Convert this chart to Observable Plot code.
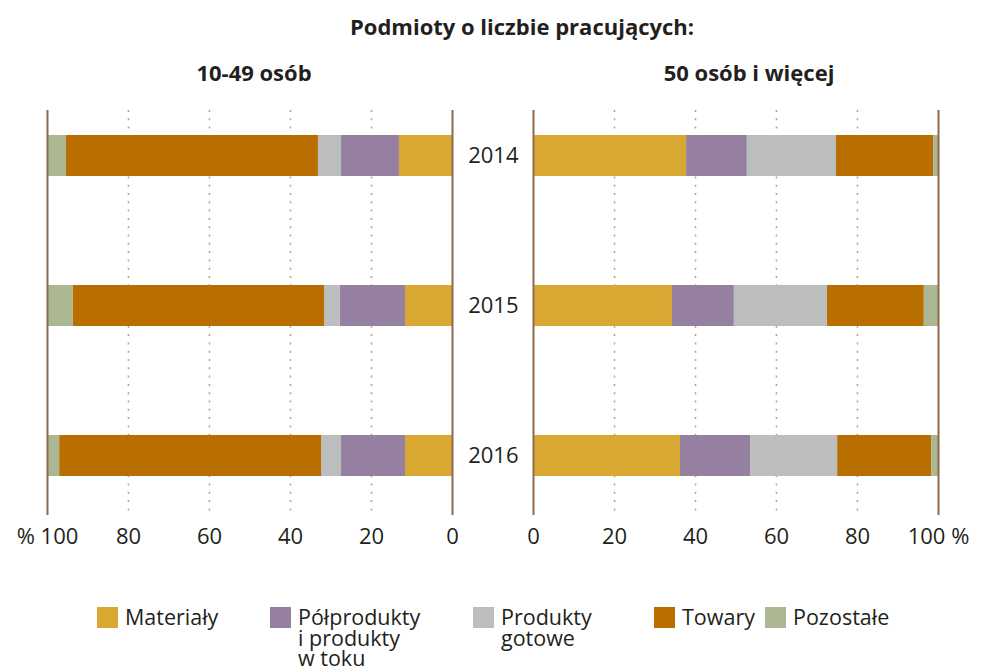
<!DOCTYPE html>
<html><head><meta charset="utf-8">
<script src="https://cdn.jsdelivr.net/npm/d3@7"></script>
<script src="https://cdn.jsdelivr.net/npm/@observablehq/plot@0.6"></script>
<style>
body{margin:0;background:#fff;font-family:"Open Sans",sans-serif;color:#231f20;}
#wrap{position:relative;width:989px;height:672px;overflow:hidden;}
.abs{position:absolute;}
.title{font-weight:bold;font-size:22px;white-space:nowrap;transform:translateX(-50%);}
.leg{position:absolute;top:607px;display:flex;align-items:flex-start;font-size:21.5px;}
.leg .ln{height:20.5px;line-height:20.5px;white-space:nowrap;}
.sw{width:21px;height:21px;margin-right:7px;flex:none;}
</style></head>
<body><div id="wrap"></div>
<script>
const years = ["2014", "2015", "2016"];
const categories = ["Materiały", "Półprodukty i produkty w toku", "Produkty gotowe", "Towary", "Pozostałe"];
const legendLines = [["Materiały"], ["Półprodukty", "i produkty", "w toku"], ["Produkty", "gotowe"], ["Towary"], ["Pozostałe"]];
const colors = ["#D8A833", "#9680A2", "#BCBDBF", "#B86F00", "#ABB790"];
const panelTitles = ["10-49 osób", "50 osób i więcej"];
const mainTitle = "Podmioty o liczbie pracujących:";
const ticks = [0, 20, 40, 60, 80, 100];

// 10-49 osób (per year 2014, 2015, 2016)
const small_materialy = [13.1, 11.6, 11.6];
const small_polprodukty = [14.3, 16.1, 15.8];
const small_gotowe = [5.7, 3.9, 4.9];
const small_towary = [62.2, 62.0, 64.7];
const small_pozostale = [4.7, 6.4, 3.0];
// 50 osób i więcej
const large_materialy = [37.8, 34.3, 36.3];
const large_polprodukty = [15.0, 15.3, 17.3];
const large_gotowe = [22.0, 23.0, 21.5];
const large_towary = [24.0, 23.9, 23.2];
const large_pozostale = [1.2, 3.5, 1.7];

function toRows(series) {
  const rows = [];
  years.forEach((y, i) => series.forEach((s, k) => rows.push({year: y, cat: categories[k], value: s[i]})));
  return rows;
}
const smallRows = toRows([small_materialy, small_polprodukty, small_gotowe, small_towary, small_pozostale]);
const largeRows = toRows([large_materialy, large_polprodukty, large_gotowe, large_towary, large_pozostale]);

const wrap = document.getElementById("wrap");
const FONT = "Open Sans";

function panel(rows, opts) {
  const marks = [
    Plot.ruleX([20, 40, 60, 80], {stroke: "#C9A072", strokeWidth: 1.6, strokeDasharray: "2,6.3"}),
    Plot.barX(rows, Plot.stackX({x: "value", y: "year", fill: "cat", order: null})),
    Plot.ruleX([0, 100], {stroke: "#8C6A4B", strokeWidth: 2}),
    Plot.axisX({anchor: "bottom", ticks: ticks, tickSize: 0, tickPadding: 13, tickFormat: opts.fmt, fontSize: 22, label: null})
  ];
  if (opts.yAxis) marks.push(Plot.axisY({anchor: "left", tickSize: 0, tickPadding: 15, fontSize: 22, label: null}));
  return Plot.plot({
    width: opts.width, height: 560,
    marginLeft: opts.marginLeft, marginRight: opts.marginRight,
    marginTop: 110, marginBottom: 45,
    style: {fontFamily: FONT, fontSize: "22px", color: "#231f20", background: "transparent", overflow: "visible"},
    x: {domain: [0, 100], reverse: opts.reverse, ticks: ticks, label: null},
    y: {domain: years, range: [80, 530], paddingInner: 0.727, paddingOuter: 0.3635, label: null, axis: opts.yAxis ? undefined : null},
    color: {domain: categories, range: colors},
    marks
  });
}

const left = panel(smallRows, {width: 460, marginLeft: 47, marginRight: 8, reverse: true,
  fmt: d => d === 100 ? "% 100" : String(d), yAxis: false});
left.style.position = "absolute"; left.style.left = "0px"; left.style.top = "0px";
wrap.appendChild(left);

const right = panel(largeRows, {width: 529, marginLeft: 73, marginRight: 51, reverse: false,
  fmt: d => d === 100 ? "100 %" : String(d), yAxis: true});
right.style.position = "absolute"; right.style.left = "460px"; right.style.top = "0px";
wrap.appendChild(right);

function addText(txt, x, y, cls) {
  const d = document.createElement("div");
  d.className = "abs " + cls; d.textContent = txt;
  d.style.left = x + "px"; d.style.top = y + "px";
  wrap.appendChild(d);
}
addText(mainTitle, 522, 11, "title");
addText(panelTitles[0], 254, 57, "title");
addText(panelTitles[1], 749, 57, "title");

const legX = [97, 270, 473, 654, 765];
categories.forEach((c, i) => {
  const it = document.createElement("div");
  it.className = "leg"; it.style.left = legX[i] + "px";
  const lines = legendLines[i].map(t => `<div class="ln">${t}</div>`).join("");
  it.innerHTML = `<div class="sw" style="background:${colors[i]}"></div><div style="margin-top:0px">${lines}</div>`;
  wrap.appendChild(it);
});
</script></body></html>
